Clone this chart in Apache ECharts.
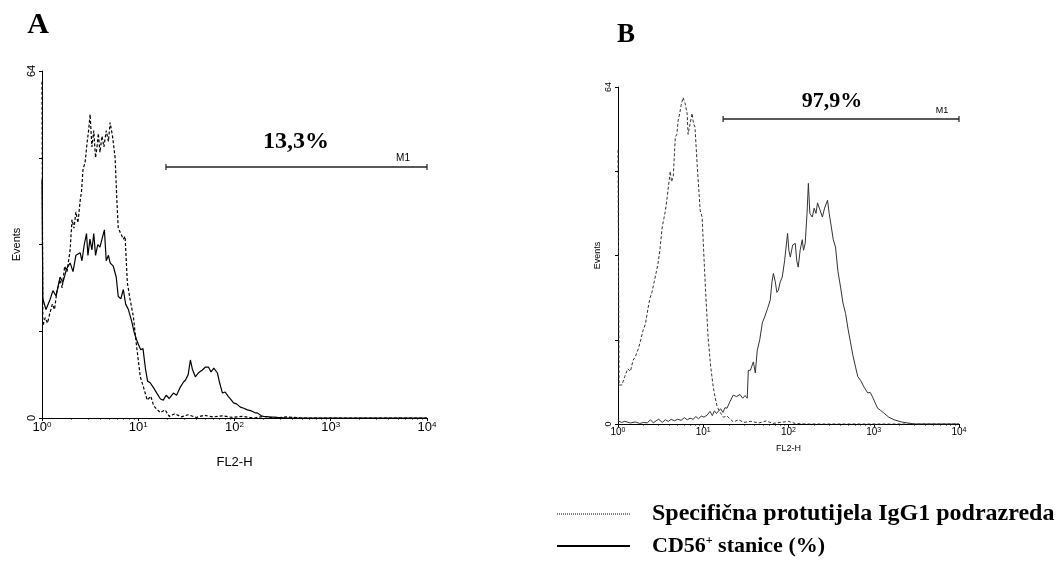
<!DOCTYPE html>
<html>
<head>
<meta charset="utf-8">
<script src="https://cdn.jsdelivr.net/npm/echarts@6/dist/echarts.min.js"></script>
<style>
html, body { margin: 0; padding: 0; background: #fff; }
#chart { width: 1063px; height: 569px; }
</style>
</head>
<body>
<div id="chart"></div>
<script>
// FL2-H channel value vs. events
const decades = [1, 10, 100, 1000, 10000];

const controlA = [[1,62],[1.02,17],[1.08,18.5],[1.14,17.5],[1.21,19.4],[1.28,21],[1.35,20],[1.43,23.5],[1.54,25.5],[1.62,24],[1.72,28],[1.82,27],[1.96,31],[2.05,36.6],[2.15,35],[2.25,38],[2.36,36],[2.49,40],[2.58,42],[2.67,46],[2.8,47],[2.95,51],[3.05,53],[3.16,56],[3.3,50],[3.45,53],[3.6,48],[3.73,50],[3.85,52.5],[4.0,49],[4.2,52],[4.4,50],[4.65,53],[4.9,51],[5.1,54.5],[5.4,52],[5.75,48],[6.0,40],[6.2,35],[6.6,34],[7.0,33],[7.3,33.5],[7.7,25],[8.2,22],[8.9,18.7],[9.5,14],[10.5,7.6],[11.2,6],[12.4,3.3],[13.5,4],[14.5,2.2],[16.9,1],[19,1.5],[21,0.3],[24,0.8],[28,0.2],[33,0.6],[40,0.1],[48,0.5],[60,0.2],[75,0.4],[95,0.1],[120,0.3],[160,0],[200,0.3],[260,0],[350,0.2],[500,0],[10000,0]];

const cd56A = [[1,44],[1.02,22],[1.1,20],[1.21,21.8],[1.3,23.5],[1.4,22.5],[1.54,26],[1.65,25],[1.8,27.5],[1.96,28.6],[2.1,27],[2.25,30],[2.49,30.5],[2.6,29],[2.75,32],[2.9,34],[3.0,30],[3.15,33],[3.3,31],[3.45,34],[3.6,30],[3.8,32],[4.0,31.5],[4.2,33],[4.45,34.7],[4.65,29],[4.9,30],[5.1,28.6],[5.5,28],[5.9,26],[6.2,22.4],[6.6,22],[7.0,23.7],[7.4,21],[7.9,20],[8.5,18],[9.1,15.7],[9.8,14],[10.6,12.6],[11.2,12.8],[11.9,9],[12.5,6.8],[13.3,6.5],[14.5,5.5],[15.7,4.5],[17,3.5],[18.2,3.3],[19.5,4.2],[21,3.6],[23.2,4.6],[25,4.2],[27,5.5],[29.4,6.6],[31,7],[33,8],[34.8,10.7],[36.5,9],[39.2,7.6],[42,8.3],[46,8.8],[50,9.4],[53.6,9.4],[57,8.5],[61,9.2],[66.5,8.3],[70,6.5],[75,4.6],[80,4.8],[86,4],[92,3.4],[97.7,2.8],[105,2.6],[115,2],[125,1.8],[136,1.5],[150,1.3],[162,1.0],[174,0.9],[190,0.4],[200,0.3],[230,0.2],[280,0.1],[350,0],[10000,0]];

const controlB = [[1,52],[1.03,7.4],[1.11,7.4],[1.2,9],[1.3,10.5],[1.4,10],[1.5,12.1],[1.6,12.8],[1.75,14.5],[1.85,16],[1.97,17.8],[2.1,19],[2.25,22],[2.38,24],[2.5,25],[2.7,27.5],[2.95,30.5],[3.1,33],[3.3,37.4],[3.45,39],[3.6,40.5],[3.77,43],[3.9,45],[4.1,48],[4.25,46],[4.45,47],[4.7,54.5],[4.9,55],[5.08,57.7],[5.3,59],[5.5,60.5],[5.8,62],[6.1,61],[6.47,59],[6.64,55],[7.0,57],[7.4,59],[7.7,57],[8.0,56.4],[8.5,49],[9.2,40.6],[9.7,39.3],[10.1,33],[10.6,26],[11.0,21],[11.4,16.5],[12.2,11],[13.1,7],[13.8,5],[14.6,3.2],[15.8,2.2],[17.2,1.3],[19,1.5],[22.5,0.4],[26,0.8],[30,0.3],[36,0.5],[45,0.2],[55,0.6],[65,0.1],[80,0.3],[100,0.5],[120,0.1],[160,0],[10000,0]];

const cd56B = [[1,0.6],[1.1,0.3],[1.2,0.5],[1.4,0.2],[1.6,0.4],[1.8,0.1],[2.0,0.3],[2.2,0.2],[2.4,0.8],[2.6,0.2],[2.8,0.6],[3.0,0.9],[3.3,0.3],[3.6,0.8],[3.9,0.5],[4.2,0.9],[4.6,0.6],[5.0,0.9],[5.5,0.7],[6.0,1.2],[6.5,0.8],[7.0,1.1],[7.6,0.9],[8.2,1.4],[8.8,1.0],[9.5,1.5],[10.2,1.3],[11.1,1.7],[12,2.4],[12.8,1.6],[13.5,2.5],[14.3,2],[15,2.4],[16,2.9],[17,2.2],[18,3.1],[19,3],[20.5,4.2],[22.5,5.5],[24.5,5.2],[27,5.6],[29,4.9],[31,5.4],[32.8,4.9],[33.8,10.2],[35.7,10.2],[38.7,11.8],[40.8,9.7],[43,14],[46,16],[49.3,19.2],[53,20.5],[57,22],[61,23.5],[64,27],[66.5,28.6],[70,27],[73,25],[76,25.4],[80,27],[84.5,27.9],[90,31],[97.5,36.2],[101,33],[105,31.7],[112,34],[120,34.3],[125,31],[130,29.8],[137,33],[145,35],[150,33],[157,34.3],[165,40],[171,45.7],[178,40],[190,39.3],[200,41],[210,40],[219,42],[230,41],[250,39.3],[265,41],[287,42.5],[300,40],[318,37.4],[335,35],[356,33.6],[380,29],[408,26],[435,23],[467,21],[500,18],[535,15.4],[570,13],[612,10.8],[650,9],[700,8.3],[770,7],[850,5.9],[910,6],[970,5.1],[1040,4],[1110,3],[1200,2.6],[1310,2.1],[1500,1.3],[1730,0.8],[2100,0.4],[2500,0.2],[3000,0],[10000,0]];

// M1 marker gates: [start, end, height]
const gateA = [19.4, 10000, 46.3];
const gateB = [17.1, 10000, 57.9];
const gateLabels = ['13,3%', '97,9%'];
const legendNames = ['Specifična protutijela IgG1 podrazreda', 'CD56⁺ stanice (%)'];

const SANS = '"Liberation Sans", Arial, sans-serif';
const SERIF = '"Liberation Serif", "Times New Roman", serif';

function makeX(gridIndex, fs, nameGap, nameSize) {
  return {
    type: 'log', logBase: 10, min: decades[0], max: decades[decades.length - 1], gridIndex: gridIndex,
    axisLine: { onZero: false, lineStyle: { color: '#000', width: 1 } },
    axisTick: { length: 3, lineStyle: { color: '#000' } },
    minorTick: { show: true, splitNumber: 9, length: 1.5, lineStyle: { color: '#000' } },
    splitLine: { show: false },
    axisLabel: {
      margin: 3,
      formatter: function (v) { return '{b|10}{s|' + Math.round(Math.log10(v)) + '}'; },
      rich: {
        b: { fontSize: fs, fontFamily: SANS, color: '#000' },
        s: { fontSize: Math.round(fs * 0.65), fontFamily: SANS, color: '#000', verticalAlign: 'top' }
      }
    },
    name: 'FL2-H', nameLocation: 'middle', nameGap: nameGap,
    nameTextStyle: { fontFamily: SANS, fontSize: nameSize, color: '#000' }
  };
}

function makeY(gridIndex, fs, nameGap) {
  return {
    type: 'value', min: 0, max: 64, interval: 16, gridIndex: gridIndex,
    axisLine: { show: true, lineStyle: { color: '#000', width: 1 } },
    axisTick: { show: true, length: 3, lineStyle: { color: '#000' } },
    splitLine: { show: false },
    axisLabel: {
      rotate: 90, margin: 5, fontFamily: SANS, fontSize: fs, color: '#000',
      formatter: function (v) { return (v === 0 || v === 64) ? String(v) : ''; }
    },
    name: 'Events', nameLocation: 'middle', nameGap: nameGap, nameRotate: 90,
    nameTextStyle: { fontFamily: SANS, fontSize: fs, color: '#000' }
  };
}

function histo(data, idx, dashed, color, width) {
  return {
    type: 'line', data: data, xAxisIndex: idx, yAxisIndex: idx,
    showSymbol: false, symbol: 'none', animation: false,
    lineStyle: { color: color, width: width, type: dashed ? [3, 2] : 'solid' }
  };
}

function gate(g, idx) {
  return {
    type: 'line', data: [[g[0], g[2]], [g[1], g[2]]], xAxisIndex: idx, yAxisIndex: idx,
    symbol: 'rect', symbolSize: [1.2, 6], clip: false, animation: false,
    itemStyle: { color: '#222' },
    lineStyle: { color: '#222', width: 1.5 }
  };
}

const chart = echarts.init(document.getElementById('chart'));
chart.setOption({
  backgroundColor: '#fff',
  animation: false,
  grid: [
    { left: 42, top: 71, width: 385, height: 347 },
    { left: 618, top: 87, width: 341, height: 337 }
  ],
  xAxis: [makeX(0, 13, 38, 13), makeX(1, 10, 20, 9)],
  yAxis: [makeY(0, 11, 20), makeY(1, 9, 16)],
  series: [
    histo(controlA, 0, true, '#000', 1.2),
    histo(cd56A, 0, false, '#000', 1.2),
    gate(gateA, 0),
    histo(controlB, 1, true, '#333', 1),
    histo(cd56B, 1, false, '#333', 1),
    gate(gateB, 1)
  ],
  graphic: [
    { type: 'text', x: 38, y: 25, style: { text: 'A', font: 'bold 30px ' + SERIF, fill: '#000', align: 'center', verticalAlign: 'middle' } },
    { type: 'text', x: 626, y: 35, style: { text: 'B', font: 'bold 27px ' + SERIF, fill: '#000', align: 'center', verticalAlign: 'middle' } },
    { type: 'text', x: 296, y: 142, style: { text: gateLabels[0], font: 'bold 24px ' + SERIF, fill: '#000', align: 'center', verticalAlign: 'middle' } },
    { type: 'text', x: 403, y: 158, style: { text: 'M1', font: '10px ' + SANS, fill: '#000', align: 'center', verticalAlign: 'middle' } },
    { type: 'text', x: 832, y: 101, style: { text: gateLabels[1], font: 'bold 22px ' + SERIF, fill: '#000', align: 'center', verticalAlign: 'middle' } },
    { type: 'text', x: 942, y: 111, style: { text: 'M1', font: '9px ' + SANS, fill: '#000', align: 'center', verticalAlign: 'middle' } },
    { type: 'line', shape: { x1: 557, y1: 514, x2: 630, y2: 514 }, style: { stroke: '#000', lineWidth: 1, lineDash: [1, 1] } },
    { type: 'line', shape: { x1: 557, y1: 546, x2: 630, y2: 546 }, style: { stroke: '#000', lineWidth: 2 } },
    { type: 'text', x: 652, y: 514, style: { text: legendNames[0], font: 'bold 24px ' + SERIF, fill: '#000', align: 'left', verticalAlign: 'middle' } },
    { type: 'text', x: 652, y: 546, style: {
        text: '{a|CD56}{s|+}{a| stanice (%)}', align: 'left', verticalAlign: 'middle',
        rich: {
          a: { font: 'bold 22px ' + SERIF, fill: '#000' },
          s: { font: 'bold 12px ' + SERIF, fill: '#000', verticalAlign: 'top' }
        }
      } }
  ]
});
</script>
</body>
</html>
